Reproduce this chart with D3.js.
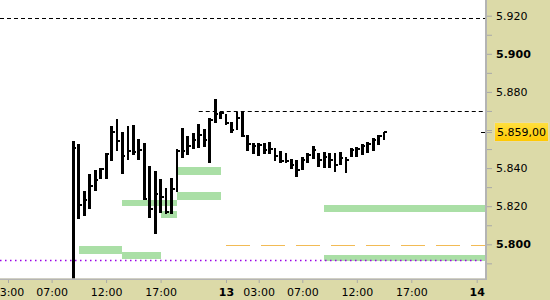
<!DOCTYPE html>
<html><head><meta charset="utf-8">
<script src="https://cdn.jsdelivr.net/npm/d3@7/dist/d3.min.js"></script>
<style>
body{margin:0;background:#fff}
svg{display:block}
text{font-family:"DejaVu Sans",Verdana,sans-serif;font-size:11px;fill:#000}
</style>
</head><body><svg id="c" width="550" height="300"></svg>
<script>
// trading hours (day 12 h -> h, day 13 h -> h+23, day 14 00:00 -> 46)
const barTimes = [9,9.5,10,10.5,11,11.5,12,12.5,13,13.5,14,14.5,15,15.5,16,16.5,17,17.5,18,18.5,19,19.5,20,20.5,21,21.5,22,22.5,23,23.5,24,24.5,25,25.5,26,26.5,27,27.5,28,28.5,29,29.5,30,30.5,31,31.5,32,32.5,33,33.5,34,34.5,35,35.5,36,36.5,37,37.5];
const highs = [5.8543,5.8526,5.8281,5.8369,5.8390,5.8398,5.8480,5.8622,5.8657,5.8591,5.8620,5.8626,5.8552,5.8533,5.8410,5.8386,5.8341,5.8297,5.8348,5.8500,5.8612,5.8568,5.8585,5.8629,5.8605,5.8661,5.8761,5.8696,5.8684,5.8643,5.8696,5.8700,5.8573,5.8530,5.8533,5.8533,5.8538,5.8504,5.8491,5.8479,5.8447,5.8442,5.8458,5.8479,5.8516,5.8479,5.8486,5.8479,5.8480,5.8486,5.8459,5.8505,5.8512,5.8526,5.8538,5.8558,5.8573,5.8591];
const lows = [5.7790,5.8134,5.8150,5.8183,5.8281,5.8342,5.8342,5.8438,5.8491,5.8370,5.8444,5.8467,5.8442,5.8232,5.8139,5.8052,5.8162,5.8157,5.8159,5.8276,5.8451,5.8468,5.8498,5.8503,5.8509,5.8428,5.8638,5.8656,5.8626,5.8582,5.8600,5.8561,5.8491,5.8474,5.8463,5.8474,5.8474,5.8438,5.8425,5.8426,5.8395,5.8353,5.8390,5.8426,5.8446,5.8407,5.8398,5.8400,5.8381,5.8416,5.8375,5.8459,5.8459,5.8468,5.8477,5.8491,5.8521,5.8547];
const closes = [5.8504,5.8206,5.8232,5.8304,5.8337,5.8393,5.8472,5.8587,5.8542,5.8463,5.8489,5.8486,5.8495,5.8237,5.8183,5.8262,5.8250,5.8169,5.8288,5.8489,5.8491,5.8516,5.8547,5.8573,5.8547,5.8652,5.8684,5.8689,5.8635,5.8600,5.8663,5.8568,5.8526,5.8516,5.8521,5.8495,5.8498,5.8463,5.8438,5.8437,5.8416,5.8390,5.8442,5.8468,5.8495,5.8442,5.8458,5.8442,5.8416,5.8453,5.8442,5.8495,5.8500,5.8516,5.8526,5.8547,5.8568,5.8590];

// green zones: start/end trading hour, low/high price (end null = right edge)
const zoneStart = [9.5, 13.5, 13.5, 17, 18.5, 18.5, 32, 32];
const zoneEnd   = [13.5, 17, 18.5, 18.5, 22.5, 22.5, null, null];
const zoneLow   = [5.7949, 5.7923, 5.8201, 5.8138, 5.8364, 5.8232, 5.8169, 5.7912];
const zoneHigh  = [5.7991, 5.7959, 5.8232, 5.8175, 5.8406, 5.8274, 5.8206, 5.7944];

// horizontal levels
const levelPrice = [5.9188, 5.8699, 5.7996, 5.7917];
const levelStart = [null, 20.5, 23, null];
const levelKind  = ["black", "black", "orange", "purple"];

const currentPrice = 5.859;
const currentLabel = "5.859,00";

const yTickValues = [5.79,5.80,5.81,5.82,5.83,5.84,5.85,5.86,5.87,5.88,5.89,5.90,5.91,5.92];
const yLabelValues = [5.80,5.82,5.84,5.88,5.90,5.92];
const yBoldValues = [5.80,5.90];

const xTickValues = [3,7,12,17,23,26,30,35,40,46];
const xTickLabels = ["03:00","07:00","12:00","17:00","13","03:00","07:00","12:00","17:00","14"];
const xBoldLabels = ["13","14"];

const svg = d3.select("#c");
const W = 550, H = 300;
const plotR = 485, plotB = 278.5;
const bg = "#dcdaa8";

const x = d3.scaleLinear().domain([7, 17]).range([51.6, 160.6]);
const y = d3.scaleLinear().domain([5.80, 5.92]).range([244.3, 15.7]);

// backgrounds
svg.append("rect").attr("x",0).attr("y",0).attr("width",W).attr("height",H).attr("fill",bg);
svg.append("rect").attr("x",0).attr("y",0).attr("width",plotR).attr("height",plotB).attr("fill","#fff");

const defs = svg.append("defs");
defs.append("clipPath").attr("id","clip").append("rect").attr("x",0).attr("y",0).attr("width",plotR).attr("height",plotB);
const g = svg.append("g").attr("clip-path","url(#clip)");

// zones
const zones = zoneStart.map((s,i)=>({s, e: zoneEnd[i], lo: zoneLow[i], hi: zoneHigh[i]}));
g.selectAll("rect.zone").data(zones).join("rect").attr("class","zone")
  .attr("x", d=>x(d.s))
  .attr("width", d=>(d.e===null?plotR:x(d.e)) - x(d.s))
  .attr("y", d=>y(d.hi)).attr("height", d=>y(d.lo)-y(d.hi))
  .attr("fill","#aadfa6").attr("shape-rendering","crispEdges");

// levels
const levelStyle = {
  black: {stroke:"#000", dash:"4,3", w:1},
  orange:{stroke:"#f2bb55", dash:"24,11", w:1},
  purple:{stroke:"#9a00e6", dash:"1.5,3.5", w:1.5}
};
const levels = levelPrice.map((p,i)=>({p, s: levelStart[i], k: levelKind[i]}));
g.selectAll("line.level").data(levels).join("line").attr("class","level")
  .attr("x1", d=>d.s===null?0:x(d.s)).attr("x2", plotR)
  .attr("y1", d=>Math.round(y(d.p))+0.5).attr("y2", d=>Math.round(y(d.p))+0.5)
  .attr("stroke", d=>levelStyle[d.k].stroke)
  .attr("stroke-width", d=>levelStyle[d.k].w)
  .attr("stroke-dasharray", d=>levelStyle[d.k].dash);

// HLC bars
const bars = barTimes.map((t,i)=>({t, h:highs[i], l:lows[i], c:closes[i]}));
const bg2 = g.append("g").attr("shape-rendering","crispEdges");
bg2.selectAll("line.hl").data(bars).join("line").attr("class","hl")
  .attr("x1", d=>x(d.t)).attr("x2", d=>x(d.t))
  .attr("y1", d=>y(d.h)).attr("y2", d=>y(d.l))
  .attr("stroke","#000").attr("stroke-width",2.8);
bg2.selectAll("line.cl").data(bars).join("line").attr("class","cl")
  .attr("x1", d=>x(d.t)).attr("x2", d=>x(d.t)+3)
  .attr("y1", d=>y(d.c)).attr("y2", d=>y(d.c))
  .attr("stroke","#000").attr("stroke-width",2);

// current price marker at right edge
svg.append("line").attr("x1",plotR-4).attr("x2",plotR).attr("y1",Math.round(y(currentPrice))+0.5).attr("y2",Math.round(y(currentPrice))+0.5)
  .attr("stroke","#000").attr("stroke-width",1);

// borders
svg.append("rect").attr("x",plotR).attr("y",0).attr("width",2).attr("height",plotB+1.5).attr("fill","#b4b4b4");
svg.append("rect").attr("x",0).attr("y",plotB).attr("width",plotR+2).attr("height",1.5).attr("fill","#b4b4b4");

// right axis
const yAxis = d3.axisRight(y).tickValues(yTickValues).tickSize(5).tickPadding(4)
  .tickFormat(v => yLabelValues.some(l=>Math.abs(l-v)<1e-9) ? d3.format(".3f")(v) : "");
const ya = svg.append("g").attr("transform",`translate(${plotR+2},0)`).call(yAxis);
ya.select(".domain").remove();
ya.selectAll(".tick line").attr("stroke","#a8a8a8");
ya.selectAll(".tick text").attr("font-size",11).attr("font-family","DejaVu Sans")
  .attr("fill","#000")
  .attr("font-weight", v => yBoldValues.some(b=>Math.abs(b-v)<1e-9) ? "bold" : "normal");

// current price label
const grad = defs.append("linearGradient").attr("id","gold").attr("x1",0).attr("y1",0).attr("x2",0).attr("y2",1);
grad.append("stop").attr("offset","0%").attr("stop-color","#ffe040");
grad.append("stop").attr("offset","100%").attr("stop-color","#ffc800");
const cy = y(currentPrice);
svg.append("rect").attr("x",494.5).attr("y",Math.round(cy)-9.5).attr("width",54).attr("height",19)
  .attr("fill","url(#gold)").attr("stroke","#e6dcaa").attr("stroke-width",1);
svg.append("line").attr("x1",plotR+2).attr("x2",plotR+7).attr("y1",Math.round(cy)+0.5).attr("y2",Math.round(cy)+0.5).attr("stroke","#a8a8a8");
svg.append("text").attr("x",497).attr("y",cy).attr("dy","0.35em").text(currentLabel);

// bottom axis
const xAxis = d3.axisBottom(x).tickValues(xTickValues).tickSize(3).tickPadding(5)
  .tickFormat((v,i)=>xTickLabels[i]);
const xa = svg.append("g").attr("transform",`translate(0,${plotB+1.5})`).call(xAxis);
xa.select(".domain").remove();
xa.selectAll(".tick line").attr("stroke","#a8a8a8");
xa.selectAll(".tick text").attr("font-size",11).attr("font-family","DejaVu Sans").attr("fill","#000")
  .attr("font-weight",(v,i)=>xBoldLabels.includes(xTickLabels[i])?"bold":"normal");
</script>
</body></html>
